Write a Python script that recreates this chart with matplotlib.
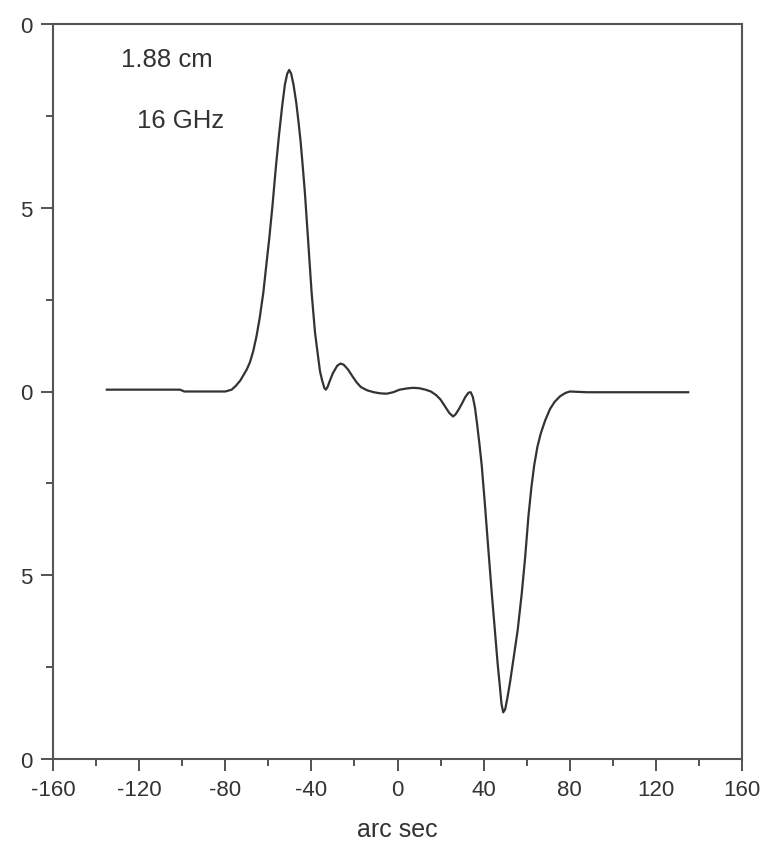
import matplotlib
matplotlib.use("Agg")
import matplotlib.pyplot as plt
from matplotlib.ticker import MultipleLocator

# profile (arc sec vs signal)
arcsec = [-135, -101, -99, -80, -77, -75, -73, -71.5, -70, -68.5, -67, -65.5, -64,
          -62.3, -61, -59.5, -58, -56.5, -55, -53.5, -52.3, -51.2, -50.3, -49.4,
          -48.3, -47, -46, -45, -44, -43, -41.5, -39.9, -38.3, -37, -36,
          -35, -34, -33.3, -32.5, -31.5, -30, -28, -26.5, -25, -23, -21, -19, -17,
          -14, -11, -8, -5, -2, 1, 4, 7, 10, 13, 15.5, 18, 20, 22, 24, 25.8, 27,
          28.5, 30, 31.5, 33, 34, 35, 36, 37, 38, 39.1, 40.5, 42.2, 43.8, 45.3,
          46.5, 47.5, 48.3, 49.1, 50, 51, 52.3, 53.8, 55.8, 57.7, 59.3, 60.8, 62.2,
          63.5, 65, 66.5, 68.5, 70.8, 73, 75.5, 78, 80, 88, 135]
signal = [0.05, 0.05, 0.0, 0.0, 0.05, 0.16, 0.3, 0.45, 0.6, 0.8, 1.1, 1.5, 2.0,
          2.7, 3.4, 4.2, 5.1, 6.1, 7.0, 7.8, 8.35, 8.65, 8.75, 8.65,
          8.35, 7.85, 7.35, 6.8, 6.12, 5.4, 4.1, 2.7, 1.6, 1.0, 0.55,
          0.3, 0.1, 0.05, 0.12, 0.28, 0.5, 0.7, 0.76, 0.73, 0.6, 0.42, 0.25, 0.12,
          0.03, -0.02, -0.05, -0.06, -0.02, 0.05, 0.08, 0.1, 0.09, 0.05, 0.0, -0.1,
          -0.22, -0.4, -0.58, -0.68, -0.62,
          -0.48, -0.32, -0.15, -0.03, -0.02, -0.15, -0.45, -0.9, -1.4, -2.0, -3.0,
          -4.3, -5.5, -6.55,
          -7.4, -8.0, -8.5, -8.73, -8.65, -8.35, -7.9, -7.3, -6.5, -5.5, -4.5, -3.4,
          -2.6, -2.0, -1.5, -1.15, -0.8, -0.48, -0.28, -0.13, -0.04, 0.0, -0.02, -0.02]

y_ticks = [10, 5, 0, -5, -10]
y_labels = ["0", "5", "0", "5", "0"]
x_ticks = [-160, -120, -80, -40, 0, 40, 80, 120, 160]
notes = ["1.88 cm", "16 GHz"]

plt.rcParams["font.family"] = ["Liberation Sans", "DejaVu Sans"]
ink = "#333333"

fig = plt.figure(figsize=(7.72, 8.53), dpi=100)
ax = fig.add_axes([53 / 772, 93 / 853, 689 / 772, 735 / 853])

ax.plot(arcsec, signal, color=ink, lw=1.6, solid_joinstyle="round")

ax.set_xlim(-160, 160)
ax.set_ylim(-10, 10)
ax.set_xticks(x_ticks)
ax.set_xticklabels([str(t) for t in x_ticks])
ax.set_yticks(y_ticks)
ax.set_yticklabels(y_labels)
ax.xaxis.set_minor_locator(MultipleLocator(20))
ax.yaxis.set_minor_locator(MultipleLocator(2.5))

ax.tick_params(which="major", direction="out", length=8.5, width=1.3,
               color="#444444", labelsize=16, labelcolor=ink, pad=6)
ax.tick_params(which="minor", direction="out", length=5, width=1.3, color="#444444")
for sp in ax.spines.values():
    sp.set_color("#555555")
    sp.set_linewidth(1.5)

ax.set_xlabel("arc sec", fontsize=18, color=ink, labelpad=12)

ax.text(-128.5, 8.85, notes[0], fontsize=18.5, color=ink)
ax.text(-121, 7.2, notes[1], fontsize=18.5, color=ink)

fig.savefig("out.png", dpi=100, facecolor="white")
